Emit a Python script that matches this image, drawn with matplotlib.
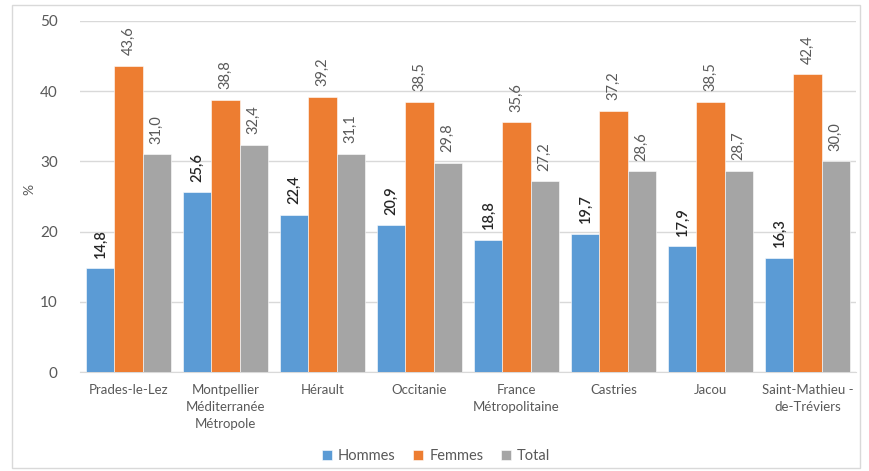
import matplotlib
matplotlib.use("Agg")
import matplotlib.pyplot as plt
import numpy as np
from matplotlib.patches import Rectangle

categories = ["Prades-le-Lez", "Montpellier\nMéditerranée\nMétropole", "Hérault", "Occitanie",
              "France\nMétropolitaine", "Castries", "Jacou", "Saint-Mathieu -\nde-Tréviers"]
hommes = [14.8, 25.6, 22.4, 20.9, 18.8, 19.7, 17.9, 16.3]
femmes = [43.6, 38.8, 39.2, 38.5, 35.6, 37.2, 38.5, 42.4]
total = [31.0, 32.4, 31.1, 29.8, 27.2, 28.6, 28.7, 30.0]
series_names = ["Hommes", "Femmes", "Total"]
colors = ["#5B9BD5", "#ED7D31", "#A5A5A5"]
yticks = [0, 10, 20, 30, 40, 50]

plt.rcParams['font.family'] = ['Lato', 'DejaVu Sans']
fig = plt.figure(figsize=(8.7, 4.71), dpi=100)
ax = fig.add_axes([80/870, 1-372/471, (856-80)/870, (372-21)/471])

x = np.arange(len(categories))
w = 0.29
for i, (vals, name, c) in enumerate(zip([hommes, femmes, total], series_names, colors)):
    pos = x + (i - 1) * w
    bars = ax.bar(pos, vals, w, color=c, label=name, edgecolor='white', linewidth=0.4, zorder=3)
    for b, v in zip(bars, vals):
        ax.text(b.get_x() + b.get_width()/2, v + 1.5, f"{v:.1f}".replace('.', ','),
                rotation=90, ha='center', va='bottom', fontsize=10.5,
                color='#262626' if i == 0 else '#595959',
                fontweight='semibold' if i == 0 else 'normal')

ax.set_xlim(-0.5, len(categories) - 0.5)
ax.set_ylim(0, 50)
ax.set_yticks(yticks)
ax.set_xticks(x)
ax.set_xticklabels(categories, fontsize=9.5, color='#595959', linespacing=1.45)
ax.tick_params(axis='y', labelsize=11, colors='#595959', length=0, pad=16)
ax.tick_params(axis='x', length=0, pad=9)
ax.grid(axis='y', color='#D9D9D9', linewidth=1, zorder=0)
for s in ['top', 'right', 'left']:
    ax.spines[s].set_visible(False)
ax.spines['bottom'].set_color('#D9D9D9')
ax.set_ylabel('%', fontsize=10, color='#595959', labelpad=14)
ax.yaxis.set_label_coords(-0.058, 0.52)

fig.legend(loc='center', bbox_to_anchor=(436/870, 1-456/471), ncol=3, frameon=False,
           fontsize=10.5, handlelength=0.7, handleheight=0.7, handletextpad=0.4,
           columnspacing=1.2, labelcolor='#595959')

fig.patches.append(Rectangle((12/870, 3/471), (860-12)/870, (466-3)/471, transform=fig.transFigure,
                             fill=False, edgecolor='#D9D9D9', linewidth=1))
fig.savefig('out.png', dpi=100)
